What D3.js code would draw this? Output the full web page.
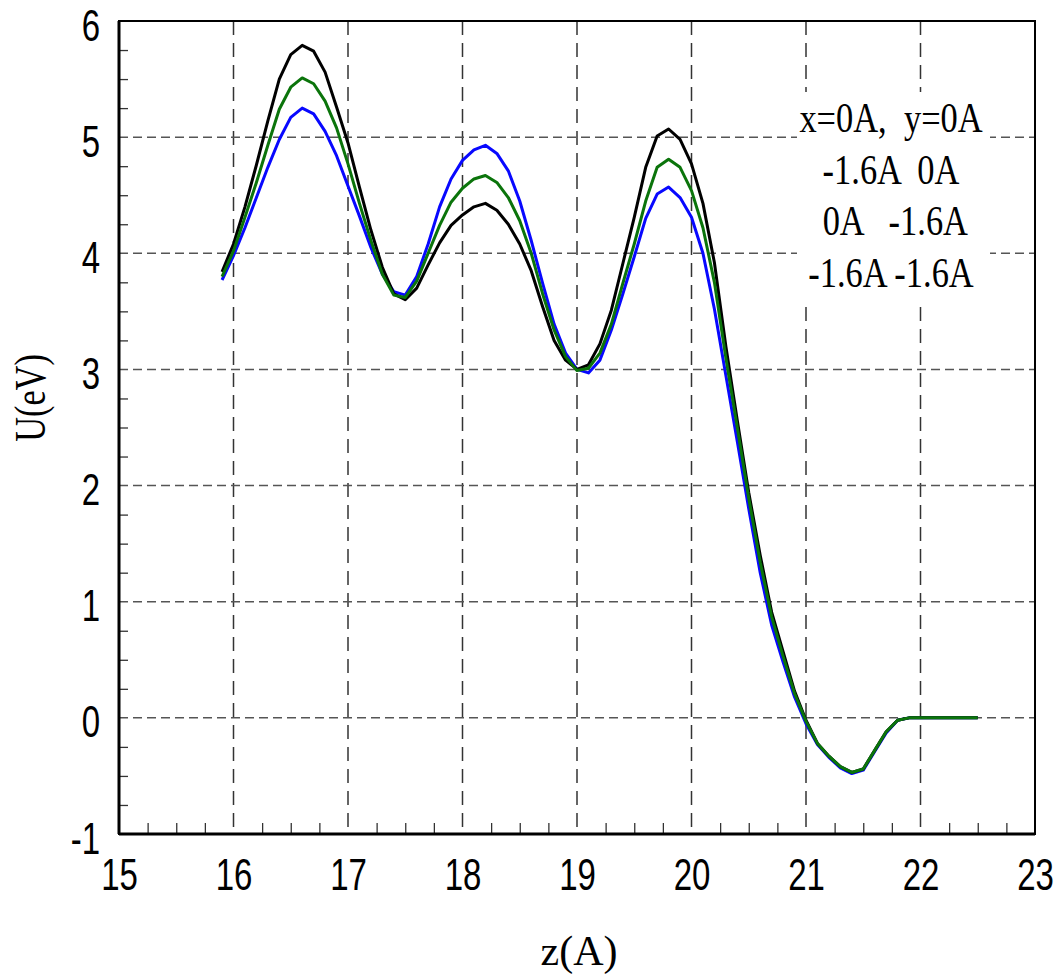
<!DOCTYPE html>
<html>
<head>
<meta charset="utf-8">
<script src="https://cdn.jsdelivr.net/npm/d3@7"></script>
<style>
  body { margin: 0; background: #fff; }
  svg { display: block; }
</style>
</head>
<body>
<svg id="chart"></svg>
<script>
// z positions (A)
const zVals = [15.9, 16.0, 16.1, 16.2, 16.3, 16.4, 16.5, 16.6, 16.7, 16.8, 16.9,
  17.0, 17.1, 17.2, 17.3, 17.4, 17.5, 17.6, 17.7, 17.8, 17.9,
  18.0, 18.1, 18.2, 18.3, 18.4, 18.5, 18.6, 18.7, 18.8, 18.9,
  19.0, 19.1, 19.2, 19.3, 19.4, 19.5, 19.6, 19.7, 19.8, 19.9,
  20.0, 20.1, 20.2, 20.3, 20.4, 20.5, 20.6, 20.7, 20.8, 20.9,
  21.0, 21.1, 21.2, 21.3, 21.4, 21.5, 21.6, 21.7, 21.8, 21.9,
  22.0, 22.1, 22.2, 22.3, 22.4, 22.5];

// U(eV) for each curve
const uBlack = [3.84, 4.08, 4.40, 4.76, 5.14, 5.50, 5.71, 5.79, 5.74, 5.56, 5.26,
  4.95, 4.57, 4.20, 3.88, 3.65, 3.60, 3.70, 3.90, 4.09, 4.24,
  4.33, 4.40, 4.43, 4.37, 4.25, 4.08, 3.85, 3.54, 3.25, 3.08,
  3.00, 3.04, 3.22, 3.51, 3.91, 4.31, 4.74, 5.01, 5.07, 4.98,
  4.77, 4.43, 3.92, 3.20, 2.56, 1.94, 1.40, 0.91, 0.57, 0.23,
  -0.02, -0.22, -0.33, -0.42, -0.47, -0.44, -0.28, -0.12, -0.02, 0,
  0, 0, 0, 0, 0, 0];

const uGreen = [3.80, 4.02, 4.31, 4.61, 4.93, 5.24, 5.43, 5.51, 5.46, 5.31, 5.08,
  4.77, 4.43, 4.11, 3.82, 3.64, 3.62, 3.76, 4.00, 4.24, 4.44,
  4.56, 4.64, 4.67, 4.61, 4.48, 4.28, 4.00, 3.65, 3.34, 3.11,
  2.99, 3.01, 3.14, 3.39, 3.74, 4.08, 4.45, 4.74, 4.81, 4.74,
  4.54, 4.22, 3.75, 3.10, 2.50, 1.89, 1.34, 0.87, 0.53, 0.21,
  -0.03, -0.22, -0.33, -0.42, -0.47, -0.44, -0.28, -0.12, -0.02, 0,
  0, 0, 0, 0, 0, 0];

const uBlue = [3.77, 3.98, 4.22, 4.48, 4.74, 4.98, 5.17, 5.25, 5.20, 5.05, 4.84,
  4.58, 4.32, 4.05, 3.82, 3.67, 3.64, 3.80, 4.08, 4.40, 4.64,
  4.80, 4.89, 4.93, 4.86, 4.71, 4.45, 4.11, 3.74, 3.39, 3.14,
  3.00, 2.97, 3.08, 3.34, 3.65, 3.97, 4.30, 4.51, 4.57, 4.48,
  4.31, 4.00, 3.52, 2.95, 2.38, 1.80, 1.25, 0.80, 0.48, 0.18,
  -0.05, -0.23, -0.34, -0.43, -0.48, -0.45, -0.29, -0.13, -0.02, 0,
  0, 0, 0, 0, 0, 0];

const xTicks = [15, 16, 17, 18, 19, 20, 21, 22, 23];
const yTicks = [-1, 0, 1, 2, 3, 4, 5, 6];

const legendRows = ["x=0A,  y=0A", "-1.6A  0A", " 0A   -1.6A", "-1.6A -1.6A"];

// drawing order: blue, black, green on top
const series = [
  { name: "blue", values: uBlue, color: "#0808ff" },
  { name: "black", values: uBlack, color: "#000000" },
  { name: "green", values: uGreen, color: "#0b740b" }
];

// Dimensioner
const width = 1056, height = 974;
const margin = { top: 21, right: 21, bottom: 140, left: 119 };
const squeeze = 0.75; // smalle skrifttyper

const svg = d3.select("#chart").attr("width", width).attr("height", height);

const x = d3.scaleLinear().domain([15, 23]).range([margin.left, width - margin.right]);
const y = d3.scaleLinear().domain([-1, 6]).range([height - margin.bottom, margin.top]);

// Gitterlinjer
svg.append("g")
  .selectAll("line")
  .data(xTicks.slice(1, -1))
  .join("line")
  .attr("x1", d => x(d)).attr("x2", d => x(d))
  .attr("y1", y(6)).attr("y2", y(-1))
  .attr("stroke", "#333")
  .attr("stroke-width", 1.5)
  .attr("stroke-dasharray", "14,8");

svg.append("g")
  .selectAll("line")
  .data(yTicks.slice(1, -1))
  .join("line")
  .attr("x1", x(15)).attr("x2", x(23))
  .attr("y1", d => y(d)).attr("y2", d => y(d))
  .attr("stroke", "#555")
  .attr("stroke-width", 1.5)
  .attr("stroke-dasharray", "9,5");

// Legend baggrund
svg.append("rect")
  .attr("x", 797).attr("y", 92)
  .attr("width", 193).attr("height", 210)
  .attr("fill", "#fff");

// Små tick-mærker
const xMinor = d3.range(15, 23.001, 0.25).filter(d => Math.abs(d - Math.round(d)) > 0.01);
const yMinor = d3.range(-1, 6.001, 0.25).filter(d => Math.abs(d - Math.round(d)) > 0.01);

svg.append("g")
  .attr("transform", `translate(0,${y(-1)})`)
  .call(d3.axisBottom(x).tickValues(xMinor).tickSize(-11).tickFormat(""))
  .call(g => g.select(".domain").remove())
  .call(g => g.selectAll(".tick line").attr("stroke", "#333").attr("stroke-width", 1.3));

svg.append("g")
  .attr("transform", `translate(${x(15)},0)`)
  .call(d3.axisLeft(y).tickValues(yMinor).tickSize(-9).tickFormat(""))
  .call(g => g.select(".domain").remove())
  .call(g => g.selectAll(".tick line").attr("stroke", "#333").attr("stroke-width", 1.3));

// Akse-tal (almindelig bindestreg som minus)
svg.append("g")
  .attr("transform", `translate(0,${y(-1)})`)
  .call(d3.axisBottom(x).tickValues(xTicks).tickSize(0).tickFormat(d => String(d)))
  .call(g => g.select(".domain").remove())
  .call(g => g.selectAll(".tick text")
    .attr("y", 56).attr("dy", null)
    .attr("transform", `scale(${squeeze},1)`)
    .attr("font-family", "'Liberation Sans', Arial, sans-serif")
    .attr("font-size", 44)
    .attr("fill", "#000"));

svg.append("g")
  .attr("transform", `translate(${x(15)},0)`)
  .call(d3.axisLeft(y).tickValues(yTicks).tickSize(0).tickFormat(d => String(d)))
  .call(g => g.select(".domain").remove())
  .call(g => g.selectAll(".tick text")
    .attr("x", -19 / squeeze).attr("dy", 19)
    .attr("transform", `scale(${squeeze},1)`)
    .attr("font-family", "'Liberation Sans', Arial, sans-serif")
    .attr("font-size", 44)
    .attr("fill", "#000"));

// Kurver
const line = d3.line()
  .x((d, i) => x(zVals[i]))
  .y(d => y(d));

svg.append("g")
  .selectAll("path")
  .data(series)
  .join("path")
  .attr("d", d => line(d.values))
  .attr("fill", "none")
  .attr("stroke", d => d.color)
  .attr("stroke-width", 3)
  .attr("stroke-linejoin", "round");

// Ramme
svg.append("rect")
  .attr("x", x(15)).attr("y", y(6))
  .attr("width", x(23) - x(15)).attr("height", y(-1) - y(6))
  .attr("fill", "none")
  .attr("stroke", "#000")
  .attr("stroke-width", 2);

svg.append("line")
  .attr("x1", x(15)).attr("x2", x(23))
  .attr("y1", y(-1)).attr("y2", y(-1))
  .attr("stroke", "#000").attr("stroke-width", 3);
svg.append("line")
  .attr("x1", x(15)).attr("x2", x(15))
  .attr("y1", y(6)).attr("y2", y(-1))
  .attr("stroke", "#000").attr("stroke-width", 3);

// Legend tekst
svg.append("g")
  .selectAll("text")
  .data(legendRows)
  .join("text")
  .attr("transform", (d, i) => `translate(891,${132 + i * 51.7}) scale(0.82,1)`)
  .attr("text-anchor", "middle")
  .attr("font-family", "'Liberation Serif', 'Times New Roman', serif")
  .attr("font-size", 42)
  .style("white-space", "pre")
  .text(d => d);

// Aksetitler
svg.append("text")
  .attr("x", 579).attr("y", 965)
  .attr("text-anchor", "middle")
  .attr("font-family", "'Liberation Serif', 'Times New Roman', serif")
  .attr("font-size", 42)
  .text("z(A)");

svg.append("text")
  .attr("transform", `translate(45,398) rotate(-90) scale(0.78,1)`)
  .attr("text-anchor", "middle")
  .attr("font-family", "'Liberation Serif', 'Times New Roman', serif")
  .attr("font-size", 44)
  .text("U(eV)");
</script>
</body>
</html>
